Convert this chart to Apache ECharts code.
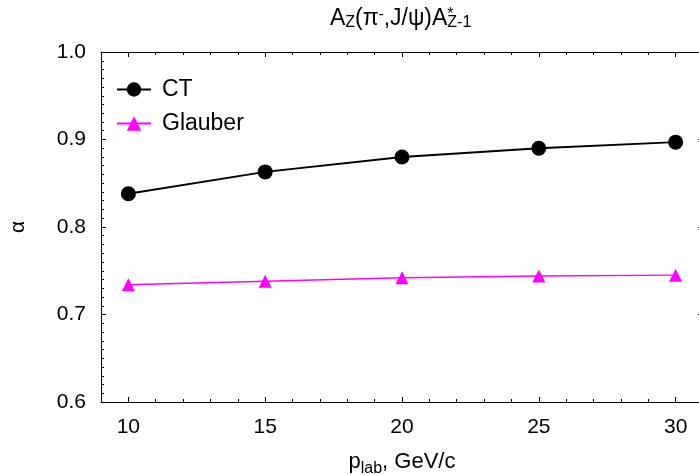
<!DOCTYPE html>
<html><head><meta charset="utf-8">
<script src="https://cdn.jsdelivr.net/npm/echarts@6/dist/echarts.min.js"></script>
<style>html,body{margin:0;padding:0;background:#fff}#c{width:699px;height:475px}</style>
</head><body><div id="c"></div>
<script>
const pLab = [10, 15, 20, 25, 30];
const ctAlpha = [0.838, 0.863, 0.880, 0.890, 0.897];
const glauberAlpha = [0.734, 0.738, 0.742, 0.744, 0.745];
const xMajorTicks = [10, 15, 20, 25, 30];
const seriesNames = ['CT', 'Glauber'];

const FONT = 'Liberation Sans, Arial, Helvetica, sans-serif';
const chart = echarts.init(document.getElementById('c'), null, {renderer: 'canvas'});

function xAx(pos, major, labels) {
  return {
    type: 'value', position: pos, min: 9, max: 31,
    interval: major ? undefined : 1,
    axisLine: {show: !major, onZero: false, lineStyle: {color: '#000', width: 1}},
    axisTick: major ? {show: true, inside: true, length: 5, customValues: xMajorTicks, lineStyle: {color: '#000'}}
                    : {show: true, inside: true, length: 3, lineStyle: {color: '#000'}},
    axisLabel: labels ? {show: true, fontSize: 21, fontFamily: FONT, color: '#000', margin: 15,
      formatter: v => (v % 5 === 0 ? String(v) : '')} : {show: false},
    splitLine: {show: false},
    name: labels ? '{p|p}{s|lab}{t|, GeV/c}' : '',
    nameLocation: 'middle', nameGap: 49,
    nameTextStyle: {fontFamily: FONT, color: '#000',
      rich: {
        p: {fontSize: 22, fontFamily: FONT, color: '#000', lineHeight: 26, verticalAlign: 'top'},
        s: {fontSize: 16, fontFamily: FONT, color: '#000', lineHeight: 15, verticalAlign: 'bottom'},
        t: {fontSize: 22, fontFamily: FONT, color: '#000', lineHeight: 26, verticalAlign: 'top'}
      }}
  };
}
function yAx(pos, labels) {
  return {
    type: 'value', position: pos, min: 0.6, max: 1.0, interval: 0.1,
    axisLine: {show: true, onZero: false, lineStyle: {color: '#000', width: 1}},
    axisTick: {show: true, inside: true, length: 5, lineStyle: {color: '#000'}},
    minorTick: {show: true, splitNumber: 10, length: 3, lineStyle: {color: '#000'}},
    axisLabel: labels ? {show: true, fontSize: 21, fontFamily: FONT, color: '#000', margin: 15,
      formatter: v => v.toFixed(1)} : {show: false},
    splitLine: {show: false}, minorSplitLine: {show: false},
    name: labels ? 'α' : '', nameLocation: 'middle', nameGap: 72,
    nameTextStyle: {fontSize: 21, fontFamily: FONT, color: '#000'}
  };
}

chart.setOption({
  backgroundColor: '#fff',
  animation: false,
  title: {
    text: '{a|A}{sub|Z}{a|(π}{sup|-}{a|,J/ψ)A}{st|*}{sub|Z-1}',
    left: 325, top: 2,
    textStyle: {
      fontFamily: FONT, color: '#000', fontWeight: 'normal',
      rich: {
        a: {fontSize: 23, fontFamily: FONT, color: '#000', fontWeight: 'normal', lineHeight: 24, verticalAlign: 'middle'},
        sub: {fontSize: 16, fontFamily: FONT, color: '#000', fontWeight: 'normal', lineHeight: 15, verticalAlign: 'bottom'},
        sup: {fontSize: 15, fontFamily: FONT, color: '#000', fontWeight: 'normal', lineHeight: 14, verticalAlign: 'top'},
        st: {fontSize: 16, fontFamily: FONT, color: '#000', fontWeight: 'normal', lineHeight: 15, verticalAlign: 'top', width: 0, align: 'left'}
      }
    }
  },
  grid: {left: 101, top: 52, width: 602, height: 350, containLabel: false, outerBoundsMode: 'none'},
  legend: {
    orient: 'vertical', left: 116, top: 78, itemGap: 11, padding: 0,
    itemWidth: 34, itemHeight: 18,
    textStyle: {fontSize: 23, fontFamily: FONT, color: '#000', padding: [0, 0, 0, 6]},
    data: seriesNames
  },
  xAxis: [xAx('bottom', false, true), xAx('bottom', true, false), xAx('top', false, false), xAx('top', true, false)],
  yAxis: [yAx('left', true), yAx('right', false)],
  series: [
    {
      name: seriesNames[0], type: 'line', xAxisIndex: 0, yAxisIndex: 0,
      data: pLab.map((x, i) => [x, ctAlpha[i]]),
      symbol: 'circle', symbolSize: 15,
      lineStyle: {color: '#000', width: 2},
      itemStyle: {color: '#000'}
    },
    {
      name: seriesNames[1], type: 'line', xAxisIndex: 0, yAxisIndex: 0,
      data: pLab.map((x, i) => [x, glauberAlpha[i]]),
      symbol: 'triangle', symbolSize: 13,
      lineStyle: {color: '#ff00ff', width: 1.5},
      itemStyle: {color: '#ff00ff'}
    }
  ]
});
</script>
</body></html>
